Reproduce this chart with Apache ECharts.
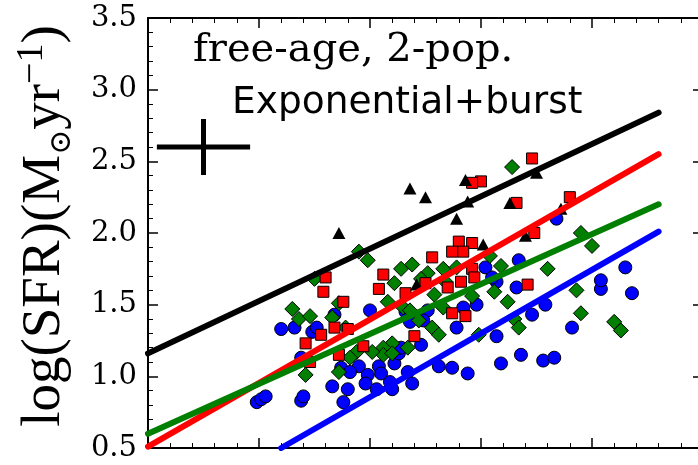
<!DOCTYPE html>
<html>
<head>
<meta charset="utf-8">
<script src="https://cdn.jsdelivr.net/npm/echarts@6/dist/echarts.min.js"></script>
<style>
  html, body { margin: 0; padding: 0; background: #fff; }
  #chart { width: 698px; height: 465px; }
</style>
</head>
<body>
<div id="chart"></div>
<script>
// Axis ranges (x: log stellar mass, unlabelled; y: log SFR)
const xMin = 9.0, xMax = 11.5, xStep = 0.5;
const yMin = 0.5, yMax = 3.5, yStep = 0.5;

// Galaxy samples: [x, log SFR]
const blueCircles = [
  [9.49,0.82],[9.51,0.84],[9.53,0.86],[9.60,1.33],[9.66,1.34],[9.69,1.13],[9.69,0.83],[9.70,0.86],
  [9.74,1.31],[9.76,1.34],[9.84,1.43],[9.83,0.93],[9.88,0.82],[9.87,1.06],[9.90,0.91],[10.00,1.46],
  [9.95,1.07],[9.99,1.01],[10.04,1.07],[10.05,1.02],[9.98,0.95],[10.03,0.91],[10.09,0.96],[10.10,0.91],
  [10.11,1.09],[10.13,1.16],[10.14,1.20],[10.17,1.03],[10.19,0.95],[10.23,1.22],[10.26,1.46],[10.31,1.07],
  [10.37,1.06],[10.44,1.02],[10.39,1.34],[10.48,1.50],[10.52,1.76],[10.57,1.66],[10.67,1.81],[10.66,1.62],
  [10.73,1.43],[10.79,1.50],[10.57,1.28],[10.59,1.09],[10.68,1.15],[10.78,1.11],[10.83,1.13],[10.91,1.34],
  [11.04,1.61],[11.04,1.67],[11.15,1.76],[11.18,1.58],[10.84,2.10],[9.91,1.03],[10.24,1.39],[10.16,1.45],
  [10.55,1.69],[10.42,1.48],[10.18,1.38]
];
const greenDiamonds = [
  [9.65,1.47],[9.68,1.40],[9.73,1.42],[9.71,1.01],[9.75,1.68],[9.83,1.41],[9.86,1.03],[9.86,1.51],
  [9.95,1.87],[9.99,1.81],[10.14,1.75],[10.19,1.78],[10.26,1.72],[10.33,1.75],[10.11,1.65],[10.64,2.46],
  [10.39,1.76],[10.54,1.84],[10.59,1.77],[10.80,1.75],[10.95,2.00],[11.00,1.91],[10.93,1.60],[10.95,1.44],
  [11.10,1.38],[11.13,1.32],[10.56,1.59],[10.62,1.52],[10.65,1.40],[10.67,1.34],[10.49,1.29],[10.33,1.48],
  [10.08,1.52],[10.15,1.48],[10.23,1.68],[10.29,1.57],[10.34,1.66],[10.22,1.39],[10.28,1.34],[10.31,1.29],
  [10.17,1.20],[10.10,1.23],[10.06,1.20],[10.06,1.15],[10.01,1.17],[9.94,1.17],[9.89,1.34],[9.91,1.13],
  [10.10,1.16],[10.46,1.56],[10.18,1.46]
];
const redSquares = [
  [9.80,1.69],[9.79,1.59],[9.88,1.52],[9.84,1.34],[9.90,1.33],[9.78,1.29],[9.71,1.23],[9.86,1.15],
  [9.73,1.10],[10.28,1.83],[10.06,1.71],[10.73,2.52],[10.50,2.36],[10.46,2.35],[10.66,2.21],[10.74,2.00],
  [10.40,1.94],[10.46,1.93],[10.37,1.87],[10.42,1.87],[10.46,1.75],[10.47,1.69],[10.41,1.66],[10.90,2.25],
  [10.71,1.64],[10.04,1.61],[10.35,1.62],[10.37,1.44],[10.43,1.42],[10.20,1.28],[9.97,1.21],[10.16,1.58],
  [10.25,1.65]
];
const blackTriangles = [
  [9.86,2.00],[10.18,2.31],[10.25,2.25],[10.43,2.37],[10.44,2.22],[10.39,2.10],[10.63,2.21],[10.75,2.42],
  [10.86,2.17],[10.51,1.92],[10.21,1.64],[10.70,1.98]
];

// Linear fits, one per sample: [start, end]
const blackFit = [[9.0,1.16],[11.3,2.84]];
const redFit   = [[9.0,0.51],[11.3,2.55]];
const greenFit = [[9.0,0.60],[11.3,2.20]];
const blueFit  = [[9.6,0.50],[11.3,2.01]];

// Typical uncertainty cross
const errCentre = [9.25, 2.60];
const errHalfX = 0.21, errHalfY = 0.195;

const titleLine1 = 'free-age, 2-pop.';
const titleLine2 = 'Exponential+burst';

const chart = echarts.init(document.getElementById('chart'), null, { renderer: 'canvas' });

const tickStyle = { color: '#000', width: 1.5 };
function xAxisDef(pos) {
  return {
    type: 'value', position: pos, min: xMin, max: xMax, interval: xStep,
    axisLine: { show: true, onZero: false, lineStyle: { color: '#000', width: 2 } },
    axisTick: { show: true, inside: true, length: 10, lineStyle: tickStyle },
    minorTick: { show: true, splitNumber: 5, length: 5, lineStyle: { color: '#000', width: 1 } },
    axisLabel: { show: false },
    splitLine: { show: false }
  };
}
function yAxisDef(pos, labels) {
  return {
    type: 'value', position: pos, min: yMin, max: yMax, interval: yStep,
    axisLine: { show: true, onZero: false, lineStyle: { color: '#000', width: 2 } },
    axisTick: { show: true, inside: true, length: 10, lineStyle: tickStyle },
    minorTick: { show: true, splitNumber: 5, length: 5, lineStyle: { color: '#000', width: 1 } },
    axisLabel: {
      show: labels, margin: 11, color: '#000', fontSize: 29, fontFamily: 'DejaVu Serif',
      formatter: v => v.toFixed(1)
    },
    splitLine: { show: false }
  };
}

function scatter(name, data, symbol, size, color, z, border) {
  return {
    name, type: 'scatter', data, symbol, symbolSize: size, z,
    itemStyle: { color, borderColor: '#000', borderWidth: border, opacity: 1 },
    emphasis: { disabled: true }
  };
}
function fit(name, data, color) {
  return {
    name, type: 'line', data, z: 10, symbol: 'none', clip: true,
    lineStyle: { color, width: 6, cap: 'round' }, emphasis: { disabled: true }
  };
}

const option = {
  animation: false,
  backgroundColor: '#fff',
  grid: { left: 148, top: 18, right: -5, bottom: 17, containLabel: false, outerBoundsMode: 'none' },
  xAxis: [xAxisDef('bottom'), xAxisDef('top')],
  yAxis: [yAxisDef('left', true), yAxisDef('right', false)],
  series: [
    scatter('blue', blueCircles, 'circle', 13, '#0000ff', 2, 1),
    scatter('green', greenDiamonds, 'diamond', 15, '#007f00', 3, 1),
    scatter('red', redSquares, 'rect', 11, '#ff0000', 4, 1),
    scatter('black', blackTriangles, 'triangle', [13, 12], '#000', 5, 0),
    fit('blackFit', blackFit, '#000'),
    fit('redFit', redFit, '#ff0000'),
    fit('greenFit', greenFit, '#007f00'),
    fit('blueFit', blueFit, '#0000ff'),
    {
      name: 'errX', type: 'line', z: 11, symbol: 'none',
      data: [[errCentre[0] - errHalfX, errCentre[1]], [errCentre[0] + errHalfX, errCentre[1]]],
      lineStyle: { color: '#000', width: 5 }
    },
    {
      name: 'errY', type: 'line', z: 11, symbol: 'none',
      data: [[errCentre[0], errCentre[1] - errHalfY], [errCentre[0], errCentre[1] + errHalfY]],
      lineStyle: { color: '#000', width: 5 }
    }
  ],
  graphic: [
    {
      type: 'text', left: 193, top: 31, z: 20,
      style: { text: titleLine1, fontFamily: 'DejaVu Serif', fontSize: 40, fill: '#000' }
    },
    {
      type: 'text', left: 232, top: 84, z: 20,
      style: { text: titleLine2, fontFamily: 'DejaVu Sans', fontSize: 37.5, fill: '#000' }
    },
    {
      type: 'text', x: 45, y: 226, rotation: Math.PI / 2, z: 20,
      style: {
        text: '{n|log(SFR)(M}{sub|⊙}{n|yr}{sup|−1}{n|)}',
        align: 'center', verticalAlign: 'middle', fill: '#000',
        rich: {
          n: { fontFamily: 'Liberation Serif', fontSize: 55, lineHeight: 64, fill: '#000' },
          sub: { fontFamily: 'DejaVu Serif', fontSize: 30, lineHeight: 30, verticalAlign: 'bottom', fill: '#000' },
          sup: { fontFamily: 'Liberation Serif', fontSize: 38, lineHeight: 34, verticalAlign: 'top', fill: '#000' }
        }
      }
    }
  ]
};
chart.setOption(option);
</script>
</body>
</html>
